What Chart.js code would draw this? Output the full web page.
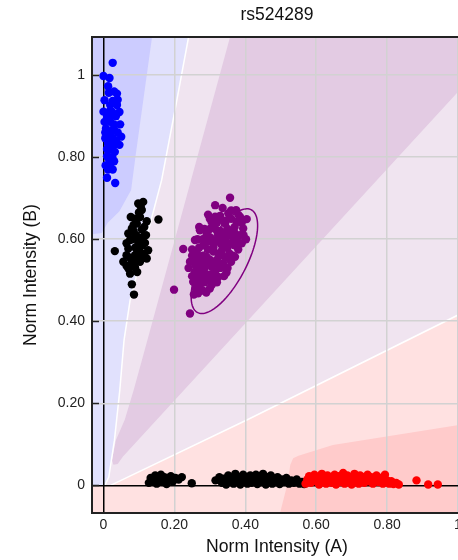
<!DOCTYPE html>
<html>
<head>
<meta charset="utf-8">
<script src="https://cdn.jsdelivr.net/npm/chart.js@4.4.1/dist/chart.umd.min.js"></script>
<style>
  html, body { margin: 0; padding: 0; background: #fff; overflow: hidden; width: 458px; height: 560px; }
  #wrap { position: relative; width: 480px; height: 560px; }
  canvas { background: #fff; }
</style>
</head>
<body>
<div id="wrap"><canvas id="c" width="480" height="560"></canvas></div>
<script>
// ---- axis ranges and ticks ----
const xRange = [-0.0324, 1.0113];
const yRange = [-0.0675, 1.093];
const tickValues = [0, 0.2, 0.4, 0.6, 0.8, 1];

// ---- genotype clusters (normalized intensities A, B) ----
const clusterBB = [
  [0.026,1.030],[0.000,0.998],[0.017,0.993],[0.013,0.973],[0.015,0.957],[0.038,0.955],
  [0.003,0.939],[0.026,0.937],[0.019,0.927],[0.038,0.927],[0.000,0.911],[0.024,0.911],
  [0.010,0.898],[0.003,0.886],[0.019,0.886],[0.047,0.880],[0.007,0.870],[0.029,0.870],
  [0.013,0.858],[0.050,0.850],[0.005,0.846],[0.029,0.843],[0.013,0.833],[0.013,0.817],
  [0.032,0.813],[0.010,0.802],[0.016,0.794],[0.013,0.770],[0.026,0.770],[0.033,0.737],
  [0.020,0.900],[0.030,0.880],[0.015,0.910],[0.035,0.900],[0.022,0.850],[0.010,0.820],
  [0.025,0.800],[0.006,0.780],[0.020,0.860],[0.030,0.830],[0.040,0.940],[0.030,0.960],
  [0.045,0.910],[0.040,0.860],[0.005,0.860],[0.035,0.840],[0.020,0.820],[0.045,0.830],
  [0.018,0.780],[0.010,0.750],[0.030,0.790]
];
const clusterUpperNC = [
  [0.112,0.691],[0.098,0.687],[0.108,0.671],[0.077,0.654],[0.103,0.654],[0.155,0.648],
  [0.122,0.644],[0.094,0.638],[0.080,0.626],[0.108,0.624],[0.070,0.614],[0.092,0.610],
  [0.112,0.606],[0.075,0.598],[0.098,0.593],[0.117,0.591],[0.032,0.571],[0.070,0.577],
  [0.094,0.575],[0.126,0.573],[0.065,0.561],[0.089,0.561],[0.108,0.565],[0.122,0.553],
  [0.056,0.545],[0.080,0.545],[0.103,0.545],[0.070,0.529],[0.089,0.531],[0.075,0.516],
  [0.080,0.490],[0.086,0.465],[0.085,0.620],[0.100,0.600],[0.090,0.580],[0.110,0.585],
  [0.080,0.600],[0.095,0.555],[0.105,0.680],[0.100,0.665],[0.090,0.650],[0.115,0.630],
  [0.085,0.635],[0.120,0.610],[0.065,0.590],[0.100,0.575],[0.115,0.560],[0.075,0.555],
  [0.085,0.540],[0.095,0.520],[0.065,0.535]
];
const clusterAB = [
  [0.357,0.701],[0.315,0.683],[0.336,0.676],[0.374,0.671],[0.352,0.663],[0.329,0.657],
  [0.404,0.649],[0.305,0.642],[0.376,0.642],[0.343,0.638],[0.394,0.626],[0.272,0.622],
  [0.319,0.622],[0.362,0.618],[0.291,0.610],[0.338,0.606],[0.402,0.600],[0.258,0.598],
  [0.376,0.598],[0.310,0.590],[0.282,0.585],[0.225,0.576],[0.347,0.581],[0.263,0.569],
  [0.324,0.565],[0.371,0.557],[0.291,0.557],[0.244,0.545],[0.272,0.541],[0.338,0.541],
  [0.305,0.533],[0.258,0.520],[0.347,0.519],[0.282,0.512],[0.324,0.508],[0.253,0.496],
  [0.305,0.488],[0.272,0.488],[0.199,0.477],[0.267,0.468],[0.244,0.419],
  [0.300,0.650],[0.320,0.640],[0.360,0.650],[0.385,0.655],[0.390,0.640],[0.300,0.625],
  [0.330,0.620],[0.350,0.625],[0.370,0.615],[0.385,0.610],[0.280,0.600],[0.300,0.605],
  [0.320,0.600],[0.345,0.595],[0.360,0.590],[0.390,0.590],[0.270,0.580],[0.295,0.575],
  [0.310,0.570],[0.335,0.575],[0.355,0.565],[0.380,0.575],[0.250,0.560],[0.280,0.560],
  [0.300,0.550],[0.320,0.550],[0.345,0.555],[0.360,0.545],[0.260,0.535],[0.285,0.530],
  [0.315,0.520],[0.330,0.530],[0.265,0.510],[0.295,0.500],[0.310,0.505],[0.285,0.495],
  [0.260,0.480],[0.290,0.470],[0.275,0.525],[0.295,0.540],[0.335,0.560],[0.365,0.605],
  [0.270,0.630],[0.285,0.625],[0.310,0.635],[0.330,0.650],[0.345,0.645],[0.370,0.630],
  [0.355,0.610],[0.325,0.610],[0.295,0.595],[0.310,0.580],[0.330,0.590],[0.350,0.580],
  [0.370,0.585],[0.260,0.550],[0.275,0.555],[0.290,0.545],[0.310,0.540],[0.325,0.535],
  [0.350,0.530],[0.270,0.530],[0.290,0.515],[0.305,0.515],[0.320,0.495],[0.275,0.500],
  [0.250,0.510],[0.265,0.490],[0.300,0.480],[0.280,0.475],[0.240,0.530],[0.250,0.575],
  [0.265,0.600],[0.340,0.615],[0.315,0.655],[0.295,0.660],[0.360,0.670],[0.380,0.660],
  [0.395,0.610],[0.365,0.560],[0.340,0.510],[0.255,0.465]
];
const clusterLowerNC = [
  [0.128,0.006],[0.133,0.018],[0.140,0.010],[0.146,0.024],[0.150,0.004],[0.156,0.014],
  [0.162,0.026],[0.168,0.008],[0.172,0.020],[0.178,0.003],[0.183,0.016],[0.190,0.022],
  [0.196,0.010],[0.203,0.018],[0.212,0.014],[0.221,0.020],[0.249,0.005],
  [0.316,0.012],[0.327,0.020],[0.334,0.006],[0.340,0.016],[0.346,0.002],[0.352,0.024],
  [0.357,0.010],[0.362,0.018],[0.367,0.004],[0.372,0.028],[0.377,0.012],[0.381,0.020],
  [0.386,0.002],[0.390,0.016],[0.394,0.026],[0.398,0.008],[0.402,0.020],[0.406,0.004],
  [0.410,0.014],[0.414,0.024],[0.418,0.006],[0.422,0.018],[0.426,0.010],[0.430,0.026],
  [0.434,0.003],[0.438,0.016],[0.442,0.022],[0.446,0.008],[0.450,0.028],[0.454,0.012],
  [0.458,0.002],[0.462,0.020],[0.467,0.010],[0.472,0.024],[0.476,0.004],[0.481,0.016],
  [0.486,0.008],[0.491,0.020],[0.497,0.003],[0.503,0.014],[0.509,0.008],[0.516,0.018],
  [0.523,0.004],[0.530,0.012],[0.537,0.006],[0.545,0.014],[0.553,0.004],[0.560,0.008],
  [0.566,0.003]
];
const clusterAA = [
  [0.570,0.004],[0.575,0.014],[0.580,0.022],[0.585,0.006],[0.590,0.016],[0.595,0.026],
  [0.600,0.010],[0.604,0.020],[0.608,0.002],[0.612,0.014],[0.616,0.028],[0.620,0.008],
  [0.624,0.018],[0.628,0.004],[0.632,0.024],[0.636,0.012],[0.640,0.020],[0.644,0.006],
  [0.648,0.016],[0.652,0.026],[0.656,0.002],[0.660,0.012],[0.664,0.022],[0.668,0.008],
  [0.672,0.018],[0.676,0.030],[0.680,0.004],[0.684,0.014],[0.688,0.024],[0.692,0.010],
  [0.696,0.020],[0.700,0.002],[0.704,0.016],[0.708,0.028],[0.712,0.008],[0.716,0.018],
  [0.720,0.004],[0.724,0.024],[0.728,0.012],[0.732,0.020],[0.736,0.006],[0.740,0.016],
  [0.745,0.026],[0.750,0.010],[0.755,0.020],[0.760,0.004],[0.765,0.014],[0.770,0.024],
  [0.776,0.008],[0.782,0.018],[0.788,0.004],[0.794,0.026],[0.800,0.012],[0.806,0.004],
  [0.812,0.010],[0.818,0.003],[0.826,0.006],[0.833,0.002],[0.883,0.012],[0.916,0.002],
  [0.943,0.002]
];

// ---- AB cluster ellipse: center, semi-axes, rotation (degrees) ----
const abEllipseCenter = [0.341, 0.5465];
const abEllipseAxes = [0.1466, 0.060];
const abEllipseAngle = 57.4;

// ---- calling regions (polygons in data space) ----
const bbEdge = [[0.24,1.093],[0.205,0.93],[0.164,0.744],[0.12,0.60],[0.075,0.451],[0.058,0.354],
                [0.046,0.232],[0.031,0.11],[0.015,0.02],[0.004,0.0]];
const bbCore = [[xRange[0],1.093],[0.137,1.093],[0.09,0.80],[0.078,0.72],[0.045,0.668],
                [0.012,0.64],[-0.005,0.615],[xRange[0],0.612]];
const abCone = [[0.357,1.093],[1.0113,1.093],[1.0113,0.97],[0.055,0.07],[0.04,0.052],[0.028,0.05],
                [0.024,0.062],[0.035,0.11],[0.06,0.16],[0.085,0.232],[0.124,0.354]];
const aaEdge = [[1.0113,0.42],[0.413,0.163],[0.02,0.0]];
const aaCore = [[0.498,yRange[0]],[1.0113,yRange[0]],[1.0113,0.148],[0.647,0.098],[0.55,0.072],
                [0.535,0.066],[0.527,0.05],[0.518,0.0]];

const FONT = "'Liberation Sans', Arial, sans-serif";

const toXY = arr => arr.map(p => ({ x: p[0], y: p[1] }));

function pathPoly(ctx, xs, ys, pts) {
  ctx.beginPath();
  pts.forEach((p, i) => {
    const px = xs.getPixelForValue(p[0]), py = ys.getPixelForValue(p[1]);
    if (i === 0) ctx.moveTo(px, py); else ctx.lineTo(px, py);
  });
  ctx.closePath();
}
function pathLine(ctx, xs, ys, pts) {
  ctx.beginPath();
  pts.forEach((p, i) => {
    const px = xs.getPixelForValue(p[0]), py = ys.getPixelForValue(p[1]);
    if (i === 0) ctx.moveTo(px, py); else ctx.lineTo(px, py);
  });
}

const regionPlugin = {
  id: 'regions',
  beforeDraw(chart) {
    const { ctx, chartArea: a, scales: { x, y } } = chart;
    ctx.save();
    ctx.beginPath();
    ctx.rect(a.left, a.top, a.right - a.left, a.bottom - a.top);
    ctx.clip();
    // no-call background
    ctx.fillStyle = '#f0e4f0';
    ctx.fillRect(a.left, a.top, a.right - a.left, a.bottom - a.top);
    // BB zone
    ctx.fillStyle = '#e1e1fd';
    pathPoly(ctx, x, y, [[xRange[0], yRange[1]], ...bbEdge, [xRange[0], 0]]);
    ctx.fill();
    ctx.fillStyle = '#ccccff';
    pathPoly(ctx, x, y, bbCore);
    ctx.fill();
    // AB zone
    ctx.fillStyle = '#e3cbe3';
    pathPoly(ctx, x, y, abCone);
    ctx.fill();
    // AA zone
    ctx.fillStyle = '#ffe1e1';
    pathPoly(ctx, x, y, [[xRange[0], yRange[0]], [xRange[1], yRange[0]], ...aaEdge, [xRange[0], 0]]);
    ctx.fill();
    ctx.fillStyle = '#ffcbcb';
    pathPoly(ctx, x, y, aaCore);
    ctx.fill();
    // white zone borders
    ctx.strokeStyle = '#ffffff';
    ctx.lineWidth = 1.5;
    pathLine(ctx, x, y, bbEdge);
    ctx.stroke();
    pathLine(ctx, x, y, aaEdge);
    ctx.stroke();
    ctx.restore();
  },
  beforeDatasetsDraw(chart) {
    const { ctx, chartArea: a, scales: { y } } = chart;
    ctx.save();
    // inward tick marks on the B axis
    ctx.strokeStyle = '#222';
    ctx.lineWidth = 1.5;
    tickValues.forEach(v => {
      const py = Math.round(y.getPixelForValue(v)) + 0.5;
      ctx.beginPath();
      ctx.moveTo(a.left, py);
      ctx.lineTo(a.left + 7, py);
      ctx.stroke();
    });
    // plot frame
    ctx.lineWidth = 2;
    ctx.strokeStyle = '#222';
    ctx.strokeRect(a.left, a.top, a.right - a.left, a.bottom - a.top);
    ctx.restore();
  },
  afterDatasetsDraw(chart) {
    const { ctx, scales: { x, y } } = chart;
    const [cx, cy] = abEllipseCenter;
    const [ra, rb] = abEllipseAxes;
    const t = abEllipseAngle * Math.PI / 180;
    ctx.save();
    ctx.strokeStyle = '#800080';
    ctx.lineWidth = 1.5;
    ctx.beginPath();
    for (let i = 0; i <= 120; i++) {
      const s = i / 120 * Math.PI * 2;
      const u = ra * Math.cos(s), w = rb * Math.sin(s);
      const dx = u * Math.cos(t) - w * Math.sin(t);
      const dy = u * Math.sin(t) + w * Math.cos(t);
      const px = x.getPixelForValue(cx + dx), py = y.getPixelForValue(cy + dy);
      if (i === 0) ctx.moveTo(px, py); else ctx.lineTo(px, py);
    }
    ctx.stroke();
    ctx.restore();
  }
};

const fmt = v => (Math.abs(v) < 1e-9 ? '0' : Math.abs(v - 1) < 1e-9 ? '1' : v.toFixed(2));
const setTicks = s => { s.ticks = tickValues.map(v => ({ value: v })); };
const gridColor = c => (Math.abs(c.tick.value) < 1e-9 ? '#000000' : '#d2d2d2');

const pointStyle = color => ({
  backgroundColor: color, borderWidth: 0, pointRadius: 4.2, pointHoverRadius: 4.2
});

new Chart(document.getElementById('c'), {
  type: 'scatter',
  data: {
    datasets: [
      { label: 'AB', data: toXY(clusterAB), ...pointStyle('#800080') },
      { label: 'AA', data: toXY(clusterAA), ...pointStyle('#ff0000') },
      { label: 'BB', data: toXY(clusterBB), ...pointStyle('#0000ff') },
      { label: 'NC upper', data: toXY(clusterUpperNC), ...pointStyle('#000000') },
      { label: 'NC lower', data: toXY(clusterLowerNC), ...pointStyle('#000000') }
    ]
  },
  options: {
    responsive: false,
    animation: false,
    events: [],
    layout: { padding: { left: 0, right: 18, top: 0, bottom: 0 } },
    plugins: {
      legend: { display: false },
      tooltip: { enabled: false },
      title: {
        display: true,
        text: 'rs524289',
        fullSize: false,
        color: '#111',
        font: { family: FONT, size: 17.5, weight: 'normal' },
        padding: { top: 4.5, bottom: 11.5 }
      }
    },
    scales: {
      x: {
        type: 'linear',
        min: xRange[0], max: xRange[1],
        afterBuildTicks: setTicks,
        afterFit: s => { s.height = 47; },
        grid: { color: gridColor, lineWidth: 1.5, drawTicks: false },
        border: { display: false },
        ticks: { callback: fmt, color: '#222', padding: 4, font: { family: FONT, size: 14 } },
        title: {
          display: true, text: 'Norm Intensity (A)', color: '#111',
          font: { family: FONT, size: 17.6 }, padding: { top: 0, bottom: 2.4 }
        }
      },
      y: {
        type: 'linear',
        min: yRange[0], max: yRange[1],
        afterBuildTicks: setTicks,
        afterFit: s => { s.width = 92; },
        grid: { color: gridColor, lineWidth: 1.5, drawTicks: false },
        border: { display: false },
        ticks: { callback: fmt, color: '#222', padding: 7, font: { family: FONT, size: 14 } },
        title: {
          display: true, text: 'Norm Intensity (B)', color: '#111',
          font: { family: FONT, size: 17.6 }, padding: { top: 20.5, bottom: 0 }
        }
      }
    }
  },
  plugins: [regionPlugin]
});
</script>
</body>
</html>
